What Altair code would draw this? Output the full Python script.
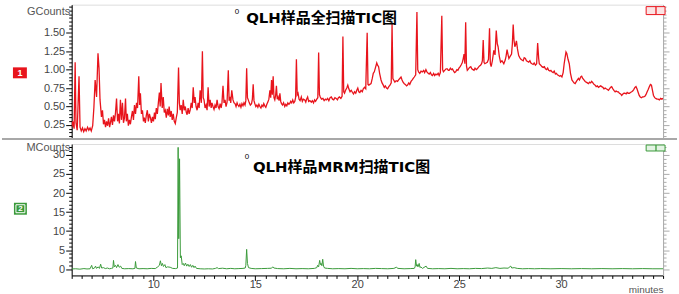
import json
import altair as alt
import pandas as pd

# ---------------- data ----------------
# top trace: full-scan TIC, (minutes, GCounts)
red_trace = [
    (6.00, 0.22), (6.05, 0.30), (6.12, 0.20), (6.17, 1.10), (6.21, 0.28), (6.27, 0.18),
    (6.36, 0.91), (6.41, 0.22), (6.47, 0.17), (6.53, 0.21), (6.59, 0.16), (6.65, 0.20),
    (6.71, 0.17), (6.78, 0.22), (6.84, 0.18), (6.90, 0.21), (6.96, 0.17), (7.03, 0.24),
    (7.09, 0.49), (7.15, 0.86), (7.22, 0.63), (7.29, 1.22), (7.34, 1.02), (7.39, 0.59),
    (7.46, 0.36), (7.51, 0.45), (7.56, 0.26), (7.61, 0.32), (7.66, 0.22), (7.71, 0.30),
    (7.76, 0.24), (7.81, 0.34), (7.86, 0.22), (7.90, 0.28), (7.95, 0.36), (8.00, 0.25),
    (8.05, 0.38), (8.10, 0.30), (8.15, 0.42), (8.20, 0.61), (8.25, 0.30), (8.29, 0.40),
    (8.34, 0.27), (8.39, 0.59), (8.44, 0.32), (8.49, 0.55), (8.54, 0.28), (8.59, 0.35),
    (8.64, 0.61), (8.68, 0.30), (8.73, 0.40), (8.78, 0.24), (8.83, 0.32), (8.88, 0.26),
    (8.93, 0.36), (8.98, 0.44), (9.03, 0.32), (9.08, 0.52), (9.13, 0.40), (9.18, 0.55),
    (9.23, 0.48), (9.29, 0.91), (9.33, 0.52), (9.37, 0.68), (9.42, 0.40), (9.47, 0.45),
    (9.52, 0.30), (9.56, 0.35), (9.61, 0.28), (9.66, 0.38), (9.71, 0.45), (9.76, 0.30),
    (9.81, 0.40), (9.86, 0.35), (9.91, 0.28), (9.96, 0.36), (10.01, 0.30), (10.06, 0.42),
    (10.10, 0.33), (10.15, 0.48), (10.20, 0.40), (10.25, 0.55), (10.30, 0.69), (10.34, 0.50),
    (10.38, 0.82), (10.44, 0.48), (10.49, 0.63), (10.54, 0.42), (10.59, 0.45), (10.64, 0.35),
    (10.69, 0.47), (10.74, 0.38), (10.78, 0.50), (10.83, 0.36), (10.88, 0.44), (10.93, 0.32),
    (10.98, 0.40), (11.03, 0.30), (11.08, 0.27), (11.13, 0.35), (11.18, 0.42), (11.24, 1.03),
    (11.28, 0.55), (11.32, 0.45), (11.37, 0.52), (11.42, 0.40), (11.47, 0.59), (11.52, 0.45),
    (11.57, 0.50), (11.62, 0.42), (11.66, 0.39), (11.71, 0.48), (11.76, 0.40), (11.81, 0.45),
    (11.86, 0.55), (11.91, 0.48), (11.96, 0.76), (12.01, 0.55), (12.05, 0.63), (12.10, 0.50),
    (12.15, 0.45), (12.20, 0.55), (12.25, 0.48), (12.30, 0.72), (12.36, 0.55), (12.41, 1.25),
    (12.45, 0.62), (12.49, 0.59), (12.54, 0.48), (12.59, 0.52), (12.64, 0.45), (12.69, 0.76),
    (12.74, 0.50), (12.79, 0.59), (12.84, 0.48), (12.88, 0.55), (12.93, 0.50), (12.98, 0.46),
    (13.03, 0.52), (13.08, 0.48), (13.13, 0.59), (13.18, 0.50), (13.23, 0.47), (13.28, 0.54),
    (13.33, 0.48), (13.37, 0.55), (13.42, 0.78), (13.47, 0.55), (13.52, 0.59), (13.57, 0.50),
    (13.62, 0.56), (13.68, 0.99), (13.72, 0.58), (13.76, 0.63), (13.80, 0.55), (13.85, 0.72),
    (13.91, 0.59), (13.96, 0.55), (14.01, 0.54), (14.06, 0.50), (14.11, 0.55), (14.15, 0.52),
    (14.20, 0.50), (14.25, 0.53), (14.30, 0.49), (14.35, 0.54), (14.40, 0.51), (14.45, 0.55),
    (14.50, 0.52), (14.54, 0.58), (14.58, 1.02), (14.62, 0.62), (14.66, 0.59), (14.71, 0.55),
    (14.76, 0.52), (14.82, 0.54), (14.86, 0.60), (14.90, 0.80), (14.94, 0.58), (14.98, 0.54),
    (15.03, 0.50), (15.08, 0.52), (15.13, 0.49), (15.18, 0.53), (15.23, 0.50), (15.28, 0.48),
    (15.33, 0.52), (15.38, 0.50), (15.42, 0.54), (15.47, 0.51), (15.52, 0.49), (15.57, 0.53),
    (15.62, 0.56), (15.67, 0.60), (15.72, 0.72), (15.76, 0.62), (15.80, 0.86), (15.84, 0.66),
    (15.88, 0.91), (15.92, 0.62), (15.96, 0.59), (16.00, 0.65), (16.04, 0.78), (16.08, 0.60),
    (16.12, 0.63), (16.17, 0.58), (16.21, 0.68), (16.25, 0.57), (16.29, 0.54), (16.34, 0.52),
    (16.39, 0.55), (16.45, 0.50), (16.50, 0.53), (16.55, 0.51), (16.60, 0.55), (16.65, 0.53),
    (16.69, 0.54), (16.74, 0.57), (16.79, 0.55), (16.84, 0.59), (16.89, 0.55), (16.94, 0.57),
    (16.98, 0.62), (17.02, 1.14), (17.06, 0.66), (17.10, 0.68), (17.15, 0.60), (17.20, 0.58),
    (17.26, 0.63), (17.31, 0.57), (17.36, 0.60), (17.43, 0.59), (17.48, 0.56), (17.52, 0.60),
    (17.57, 0.63), (17.62, 0.57), (17.68, 0.58), (17.75, 0.56), (17.80, 0.58), (17.86, 0.55),
    (17.91, 0.59), (17.96, 0.57), (18.02, 0.60), (18.07, 0.62), (18.11, 1.23), (18.15, 0.66),
    (18.19, 0.63), (18.25, 0.60), (18.32, 0.61), (18.38, 0.58), (18.44, 0.60), (18.49, 0.59),
    (18.55, 0.61), (18.61, 0.58), (18.67, 0.62), (18.73, 0.63), (18.79, 0.60), (18.85, 0.59),
    (18.91, 0.62), (18.97, 0.61), (19.03, 0.59), (19.08, 0.62), (19.13, 0.63), (19.20, 0.61),
    (19.26, 0.64), (19.30, 1.45), (19.34, 0.70), (19.38, 0.68), (19.43, 0.72), (19.49, 0.75),
    (19.54, 0.79), (19.59, 0.74), (19.65, 0.70), (19.71, 0.72), (19.77, 0.69), (19.82, 0.67),
    (19.87, 0.70), (19.93, 0.68), (19.98, 0.72), (20.03, 0.75), (20.08, 0.70), (20.13, 0.69),
    (20.19, 0.72), (20.25, 0.70), (20.30, 0.74), (20.36, 0.76), (20.42, 0.74), (20.49, 1.50),
    (20.53, 0.80), (20.57, 0.79), (20.62, 0.80), (20.68, 0.81), (20.74, 0.88), (20.79, 0.95),
    (20.84, 0.97), (20.90, 1.03), (20.96, 1.09), (21.00, 1.06), (21.05, 1.04), (21.10, 0.95),
    (21.17, 0.86), (21.22, 0.82), (21.28, 0.79), (21.33, 0.76), (21.38, 0.78), (21.44, 0.75),
    (21.49, 0.74), (21.55, 0.77), (21.61, 0.79), (21.67, 0.82), (21.71, 1.62), (21.75, 0.88),
    (21.79, 0.86), (21.85, 0.83), (21.91, 0.85), (21.98, 0.84), (22.03, 0.86), (22.09, 0.88),
    (22.15, 0.90), (22.20, 0.86), (22.25, 0.83), (22.31, 0.81), (22.36, 0.80), (22.42, 0.78),
    (22.47, 0.79), (22.53, 0.82), (22.58, 0.80), (22.64, 0.84), (22.70, 0.86), (22.75, 0.88),
    (22.80, 0.90), (22.87, 0.93), (22.93, 1.78), (22.97, 1.00), (23.01, 0.97), (23.07, 0.95),
    (23.13, 0.98), (23.20, 0.97), (23.26, 0.99), (23.31, 0.96), (23.37, 1.00), (23.42, 0.97),
    (23.48, 0.95), (23.53, 0.94), (23.59, 0.96), (23.64, 0.93), (23.69, 0.92), (23.75, 0.95),
    (23.80, 0.92), (23.86, 0.94), (23.91, 0.93), (23.97, 0.95), (24.02, 0.92), (24.08, 0.96),
    (24.15, 1.73), (24.19, 1.00), (24.23, 0.97), (24.29, 0.99), (24.36, 1.01), (24.42, 1.01),
    (24.47, 0.99), (24.51, 0.99), (24.57, 1.02), (24.62, 1.00), (24.67, 1.01), (24.73, 0.98),
    (24.78, 0.96), (24.83, 0.97), (24.89, 1.00), (24.94, 0.99), (24.99, 1.02), (25.05, 1.04),
    (25.11, 1.07), (25.16, 1.10), (25.20, 1.15), (25.24, 1.21), (25.28, 1.08), (25.32, 1.64),
    (25.36, 1.05), (25.40, 0.99), (25.46, 1.01), (25.51, 1.03), (25.57, 1.04), (25.62, 1.01),
    (25.68, 1.00), (25.73, 0.99), (25.78, 1.02), (25.84, 1.00), (25.89, 1.01), (25.94, 1.03),
    (26.00, 1.05), (26.05, 1.06), (26.10, 1.08), (26.14, 1.12), (26.18, 1.40), (26.22, 1.10),
    (26.26, 1.08), (26.32, 1.09), (26.38, 1.10), (26.44, 1.14), (26.49, 1.56), (26.53, 1.08),
    (26.57, 1.04), (26.63, 1.12), (26.70, 1.26), (26.76, 1.20), (26.82, 1.53), (26.87, 1.35),
    (26.91, 1.31), (26.97, 1.18), (27.03, 1.10), (27.10, 1.12), (27.19, 1.08), (27.26, 1.13),
    (27.30, 1.18), (27.35, 1.27), (27.40, 1.20), (27.44, 1.15), (27.50, 1.18), (27.57, 1.21),
    (27.61, 1.35), (27.65, 1.61), (27.69, 1.40), (27.73, 1.31), (27.77, 1.34), (27.81, 1.39),
    (27.86, 1.28), (27.92, 1.19), (27.98, 1.16), (28.03, 1.14), (28.08, 1.13), (28.14, 1.12),
    (28.19, 1.16), (28.25, 1.15), (28.30, 1.12), (28.36, 1.11), (28.41, 1.10), (28.47, 1.12),
    (28.52, 1.09), (28.57, 1.08), (28.63, 1.07), (28.68, 1.09), (28.74, 1.06), (28.80, 1.08),
    (28.85, 1.36), (28.90, 1.15), (28.93, 1.08), (29.00, 1.06), (29.06, 1.04), (29.12, 1.03),
    (29.18, 1.04), (29.23, 1.01), (29.29, 1.00), (29.34, 1.02), (29.39, 0.99), (29.45, 0.98),
    (29.50, 0.99), (29.55, 0.97), (29.61, 0.96), (29.66, 0.98), (29.72, 0.94), (29.77, 0.95),
    (29.82, 0.93), (29.88, 0.92), (29.93, 0.91), (29.98, 0.92), (30.04, 0.90), (30.10, 0.96),
    (30.15, 1.08), (30.20, 1.17), (30.24, 1.24), (30.28, 1.22), (30.34, 1.14), (30.40, 1.08),
    (30.46, 0.95), (30.53, 0.86), (30.58, 0.84), (30.64, 0.82), (30.69, 0.81), (30.75, 0.84),
    (30.80, 0.86), (30.85, 0.88), (30.90, 0.86), (30.96, 0.90), (31.01, 0.91), (31.06, 0.88),
    (31.12, 0.86), (31.18, 0.84), (31.23, 0.83), (31.29, 0.82), (31.34, 0.81), (31.40, 0.83),
    (31.45, 0.82), (31.50, 0.84), (31.56, 0.82), (31.61, 0.80), (31.67, 0.79), (31.72, 0.77),
    (31.78, 0.78), (31.83, 0.76), (31.88, 0.77), (31.94, 0.78), (31.99, 0.77), (32.05, 0.76),
    (32.10, 0.74), (32.16, 0.75), (32.21, 0.74), (32.27, 0.73), (32.32, 0.72), (32.37, 0.74),
    (32.43, 0.76), (32.48, 0.77), (32.54, 0.74), (32.59, 0.72), (32.65, 0.70), (32.70, 0.71),
    (32.76, 0.70), (32.81, 0.70), (32.86, 0.68), (32.92, 0.67), (32.97, 0.65), (33.03, 0.67),
    (33.08, 0.68), (33.13, 0.68), (33.19, 0.67), (33.24, 0.69), (33.29, 0.68), (33.35, 0.68),
    (33.40, 0.69), (33.46, 0.70), (33.51, 0.71), (33.56, 0.73), (33.62, 0.76), (33.67, 0.77),
    (33.72, 0.74), (33.78, 0.69), (33.83, 0.65), (33.88, 0.63), (33.94, 0.62), (33.99, 0.63),
    (34.05, 0.63), (34.11, 0.64), (34.16, 0.66), (34.22, 0.70), (34.27, 0.73), (34.33, 0.77),
    (34.38, 0.80), (34.43, 0.79), (34.48, 0.72), (34.53, 0.65), (34.59, 0.62), (34.64, 0.61),
    (34.70, 0.60), (34.76, 0.60), (34.82, 0.59), (34.88, 0.61), (34.94, 0.60), (35.00, 0.61),
]

# bottom trace: MRM TIC, (minutes, MCounts)
green_trace = [
    (6.00, 0.05), (6.20, 0.10), (6.40, 0.00), (6.60, 0.15), (6.75, 0.05), (6.90, 0.10),
    (6.98, 1.00), (7.03, 0.10), (7.12, 0.30), (7.17, 0.80), (7.22, 0.20), (7.30, 0.60),
    (7.36, 0.20), (7.42, 1.30), (7.47, 0.30), (7.56, 0.40), (7.65, 0.15), (7.75, 0.30),
    (7.85, 0.10), (7.95, 0.20), (8.02, 0.30), (8.05, 2.30), (8.09, 0.60), (8.15, 1.00),
    (8.20, 0.40), (8.27, 1.20), (8.33, 0.50), (8.40, 0.80), (8.46, 0.20), (8.60, 0.10),
    (8.80, 0.15), (9.00, 0.10), (9.10, 0.20), (9.13, 2.00), (9.17, 0.30), (9.30, 0.10),
    (9.50, 0.15), (9.70, 0.10), (9.90, 0.20), (10.10, 0.15), (10.22, 0.60), (10.30, 1.00),
    (10.35, 2.20), (10.40, 0.90), (10.45, 1.50), (10.50, 0.70), (10.57, 1.20), (10.62, 0.40),
    (10.70, 0.60), (10.83, 0.50), (10.95, 0.20), (11.10, 0.15), (11.19, 0.30), (11.22, 32.0),
    (11.25, 8.00), (11.29, 29.0), (11.33, 3.00), (11.37, 3.50), (11.42, 1.20), (11.47, 1.50),
    (11.52, 0.90), (11.58, 1.60), (11.64, 0.80), (11.70, 1.30), (11.76, 0.70), (11.82, 1.20),
    (11.88, 0.50), (11.94, 1.00), (12.00, 0.40), (12.05, 0.80), (12.12, 0.20), (12.30, 0.10),
    (12.50, 0.05), (12.70, 0.10), (12.90, 0.05), (13.05, 0.20), (13.13, 0.40), (13.20, 0.15),
    (13.40, 0.25), (13.60, 0.10), (13.80, 0.20), (14.00, 0.10), (14.20, 0.15), (14.40, 0.20),
    (14.51, 0.30), (14.54, 1.00), (14.58, 5.20), (14.62, 1.50), (14.67, 0.40), (14.80, 0.20),
    (15.00, 0.10), (15.30, 0.15), (15.60, 0.20), (15.80, 0.25), (15.86, 0.60), (15.92, 0.30),
    (16.10, 0.15), (16.40, 0.10), (16.70, 0.20), (17.00, 0.10), (17.30, 0.15), (17.60, 0.10),
    (17.90, 0.20), (18.02, 0.40), (18.06, 1.00), (18.11, 0.60), (18.16, 2.30), (18.20, 1.20),
    (18.23, 1.50), (18.27, 0.90), (18.31, 2.60), (18.35, 0.80), (18.40, 0.30), (18.55, 0.20),
    (18.80, 0.10), (19.10, 0.15), (19.40, 0.10), (19.70, 0.20), (20.00, 0.10), (20.30, 0.15),
    (20.60, 0.10), (20.90, 0.20), (21.20, 0.15), (21.50, 0.10), (21.80, 0.20), (21.92, 0.50),
    (22.00, 0.20), (22.30, 0.10), (22.60, 0.15), (22.80, 0.20), (22.84, 0.60), (22.87, 2.50),
    (22.91, 0.80), (22.94, 1.20), (22.98, 0.60), (23.04, 1.50), (23.08, 0.40), (23.12, 0.60),
    (23.20, 0.20), (23.38, 0.80), (23.45, 0.20), (23.70, 0.10), (24.00, 0.15), (24.30, 0.10),
    (24.60, 0.20), (24.90, 0.10), (25.20, 0.15), (25.50, 0.10), (25.80, 0.20), (26.10, 0.15),
    (26.40, 0.30), (26.60, 0.20), (26.80, 0.40), (27.00, 0.20), (27.20, 0.30), (27.40, 0.25),
    (27.53, 0.80), (27.58, 0.30), (27.70, 0.40), (27.85, 0.20), (28.10, 0.10), (28.40, 0.15),
    (28.70, 0.10), (29.00, 0.15), (29.50, 0.10), (30.00, 0.15), (30.50, 0.10), (31.00, 0.15),
    (31.50, 0.10), (32.00, 0.15), (32.50, 0.10), (33.00, 0.15), (33.50, 0.10), (34.00, 0.15),
    (34.50, 0.10), (35.00, 0.10),
]

# axes / labels
x_domain = [6, 35]
gc_domain = [0.06, 1.88]
mc_domain = [-1.65, 32.88]
x_major = ["10.0", "15.0", "20.0", "25.0", "30.0"]
gc_major = ["0.25", "0.50", "0.75", "1.00", "1.25", "1.50"]
mc_major = ["0", "5", "10", "15", "20", "25", "30"]
x_ticks = [round(6 + 0.5 * i, 1) for i in range(59)]
gc_ticks = [round(0.05 * i, 2) for i in range(2, 38)]
mc_ticks = list(range(0, 33))
top_title = "QLH样品全扫描TIC图"
bottom_title = "QLH样品MRM扫描TIC图"
top_label = "1"
bottom_label = "2"

# ---------------- chart ----------------
W, H1, H2 = 594, 135, 132
FONT = "Liberation Sans"
TFONT = "DejaVu Sans, Noto Sans CJK SC"
RED = "#e8141c"
GREEN = "#3a9a3a"

red_df = pd.DataFrame(red_trace, columns=["t", "v"])
green_df = pd.DataFrame(green_trace, columns=["t", "v"])
one = pd.DataFrame({"k": [0]})

xs = alt.Scale(domain=x_domain, nice=False, zero=False)


def test_expr(majors, fmt):
    return "indexof(%s, format(datum.value, '%s')) >= 0" % (json.dumps(majors), fmt)


def y_axis(majors, fmt, values, title, orient="left", color="#000", labels=True, title_y=7):
    t = test_expr(majors, fmt)
    kw = dict(
        values=values, orient=orient, grid=False, labelOverlap=False,
        domainColor=color, tickColor=color, domainWidth=1, tickWidth=1,
        tickSize={"condition": {"test": t, "value": 6}, "value": 3},
    )
    if labels:
        kw.update(
            labels=True,
            labelExpr="%s ? format(datum.value, '%s') : ''" % (t, fmt),
            labelFont=FONT, labelColor="#444", labelPadding=1,
            labelFontSize={"condition": {"test": t, "value": 11}, "value": 0},
            title=title, titleAngle=0, titleAlign="right", titleBaseline="middle",
            titleX=-2, titleY=title_y, titleFont=FONT, titleFontSize=11,
            titleFontWeight="normal", titleColor="#555",
        )
    else:
        kw.update(labels=False, title=None)
    return alt.Axis(**kw)


def text_layer(txt, x, y, size, color="#000", weight="bold", font=TFONT, align="center"):
    return alt.Chart(pd.DataFrame({"s": [txt]})).mark_text(
        font=font, fontSize=size, fontWeight=weight, color=color, align=align, baseline="middle"
    ).encode(x=alt.value(x), y=alt.value(y), text="s:N")


def box_layer(x1, x2, y1, y2, fill, stroke=None, sw=1):
    kw = dict(fill=fill)
    if stroke:
        kw.update(stroke=stroke, strokeWidth=sw)
    return alt.Chart(one).mark_rect(**kw).encode(
        x=alt.value(x1), x2=alt.value(x2), y=alt.value(y1), y2=alt.value(y2)
    )


def right_axis_layer(domain, majors, fmt, values):
    # invisible rules carrying the grey right-hand tick axis
    return alt.Chart(pd.DataFrame({"v": domain})).mark_rule(opacity=0).encode(
        y=alt.Y("v:Q", scale=alt.Scale(domain=domain, nice=False, zero=False),
                axis=y_axis(majors, fmt, values, None, orient="right", color="#aaa", labels=False))
    )


# ---- top panel ----
top_line = alt.Chart(red_df).mark_line(color=RED, strokeWidth=1.3, clip=True).encode(
    x=alt.X("t:Q", scale=xs, axis=None),
    y=alt.Y("v:Q", scale=alt.Scale(domain=gc_domain, nice=False, zero=False),
            axis=y_axis(gc_major, ".2f", gc_ticks, "GCounts")),
)
separator = alt.Chart(one).mark_rule(color="#a8a8a8", strokeWidth=2).encode(
    x=alt.value(-70), x2=alt.value(608), y=alt.value(H1)
)
top = alt.layer(
    top_line, right_axis_layer(gc_domain, gc_major, ".2f", gc_ticks), separator,
    text_layer(top_title, 251, 13, 15),
    text_layer("0", 166, 7, 8, weight="normal", font=FONT),
    box_layer(-59, -45, 63, 74, RED),
    text_layer(top_label, -52, 68.5, 9, color="white", font=FONT),
    box_layer(577, 587, 2, 10, "#fbe3e3", RED),
    box_layer(587, 596, 2, 10, "#fbe3e3", RED),
).resolve_scale(y="independent").properties(width=W, height=H1)

# ---- bottom panel ----
xt = test_expr(x_major, ".1f")
bottom_line = alt.Chart(green_df).mark_line(color=GREEN, strokeWidth=1.0, clip=True).encode(
    x=alt.X("t:Q", scale=xs, axis=alt.Axis(
        values=x_ticks, grid=False, labelOverlap=False, domainColor="#000", tickColor="#000",
        tickSize={"condition": {"test": xt, "value": 5}, "value": 3},
        labelExpr="%s ? format(datum.value, 'd') : ''" % xt,
        labelFontSize={"condition": {"test": xt, "value": 11}, "value": 0},
        labelFont=FONT, labelColor="#444", labelPadding=-2,
        title="minutes", titleX=W, titleY=14, titleAlign="right", titleBaseline="middle",
        titleFont=FONT, titleFontSize=10, titleFontWeight="normal", titleColor="#555",
    )),
    y=alt.Y("v:Q", scale=alt.Scale(domain=mc_domain, nice=False, zero=False),
            axis=y_axis(mc_major, "d", mc_ticks, "MCounts", title_y=4)),
)
bottom = alt.layer(
    bottom_line, right_axis_layer(mc_domain, mc_major, "d", mc_ticks),
    text_layer(bottom_title, 271, 23, 15),
    text_layer("0", 176, 13, 8, weight="normal", font=FONT),
    box_layer(-58, -45, 59, 71, GREEN),
    box_layer(-56, -47, 61, 69, GREEN, "white", 1),
    text_layer(bottom_label, -51.5, 65, 8, color="white", font=FONT),
    box_layer(577, 587, 1, 7, "#e3f3e3", GREEN),
    box_layer(587, 596, 1, 7, "#e3f3e3", GREEN),
).resolve_scale(y="independent").properties(width=W, height=H2)

chart = alt.vconcat(top, bottom, spacing=0).properties(
    padding={"left": 0, "top": 3, "right": 0, "bottom": 0}
).configure_view(stroke=None).configure(background="white")

chart.save("out.html", embed_options={"renderer": "svg", "actions": False})
